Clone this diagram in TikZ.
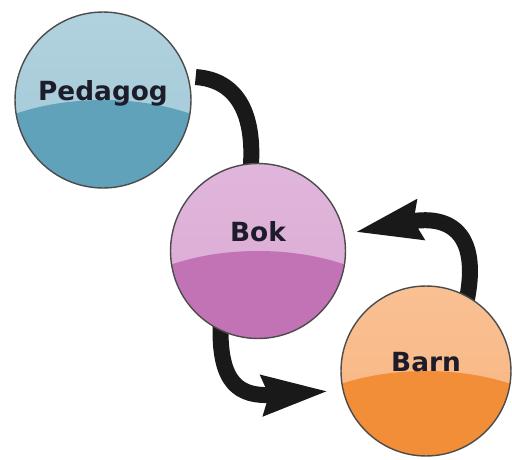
\documentclass[tikz,border=0pt]{standalone}
\usepackage{xcolor}
\usepackage{fontspec}
\setmainfont{DejaVu Sans}
\usetikzlibrary{arrows.meta, backgrounds}

\definecolor{pedtop}{HTML}{A3C9D8}
\definecolor{pedbot}{HTML}{5FA2BA}
\definecolor{boktop}{HTML}{DBA9D5}
\definecolor{bokbot}{HTML}{C273B5}
\definecolor{barntop}{HTML}{F8B580}
\definecolor{barnbot}{HTML}{F28D38}
\definecolor{labeltext}{HTML}{1C1C2A}

\begin{document}
\begin{tikzpicture}[x = 0.02cm, y = -0.02cm,
    ball/.style 2 args = {circle, draw = black!70, line width = 0.8pt,
      font = \fontsize{15}{18}\selectfont\bfseries, text = labeltext,
      text height = 0.4cm, text depth = 0.4cm,
      path picture = {
        \shade[top color = #1!85!white, bottom color = #1] (path picture bounding box.south west) rectangle (path picture bounding box.north east);
        \fill[#2] ([yshift = -1.7cm]path picture bounding box.center) ellipse [x radius = 3.2cm, y radius = 1.7cm];
      }},
    flow/.style = {line width = 0.32cm, black!90},
    pointed/.style = {-{Stealth[length = 1.3cm, width = 0.75cm, inset = 0.1cm]}}]
    \path[use as bounding box] (0, 0) rectangle (512, 460);
    \node[ball = {pedtop}{pedbot}, minimum size = 3.52cm] (ped) at (103, 100) {Pedagog};
    \node[ball = {boktop}{bokbot}, minimum size = 3.5cm, text depth = 0.78cm] (bok) at (258, 251) {Bok};
    \node[ball = {barntop}{barnbot}, minimum size = 3.4cm] (barn) at (426, 371) {Barn};
    \begin{scope}[on background layer]
      \fill[white] (0, 0) rectangle (512, 460);
      \draw[flow] ([xshift = 0.14cm]ped.15) .. controls (238, 80) and (256, 115) .. ([yshift = -0.2cm]bok.95);
      \draw[flow, pointed, shorten > = 0.2cm] ([yshift = -0.15cm]barn.62) .. controls (482, 228) and (445, 215) .. (bok.11);
      \draw[flow, pointed, shorten > = 0.27cm] ([yshift = 0.2cm]bok.245) .. controls (218, 385) and (240, 397) .. (barn.193);
    \end{scope}
  \end{tikzpicture}
\end{document}
